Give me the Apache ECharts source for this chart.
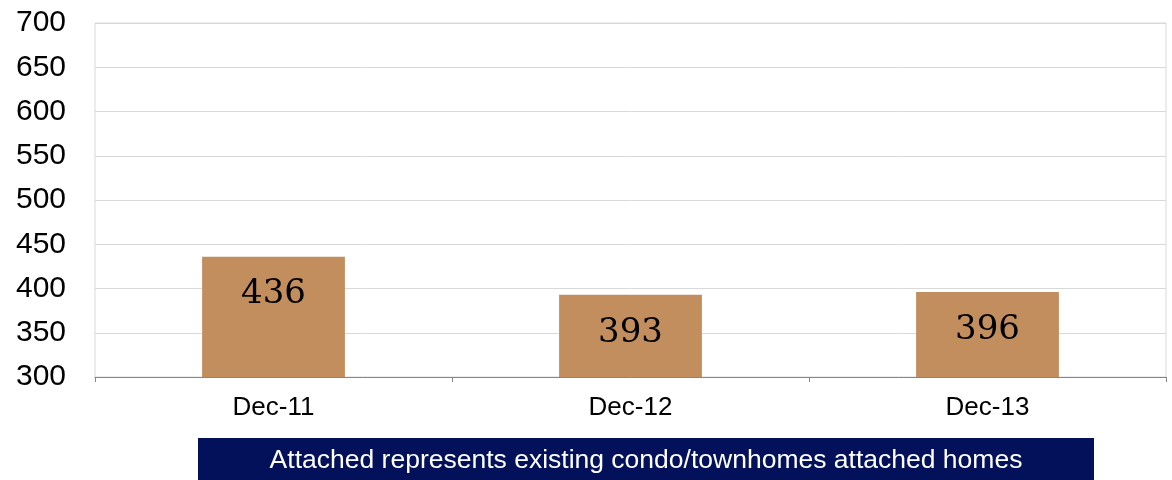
<!DOCTYPE html>
<html>
<head>
<meta charset="utf-8">
<style>
  html, body { margin: 0; padding: 0; background: #ffffff; }
  #chart { width: 1172px; height: 480px; }
</style>
<script src="https://cdn.jsdelivr.net/npm/echarts@6/dist/echarts.min.js"></script>
</head>
<body>
<div id="chart"></div>
<script>
// Existing attached homes inventory, year-end
const categories = ['Dec-11', 'Dec-12', 'Dec-13'];
const attachedValues = [436, 393, 396];
const yTicks = [300, 350, 400, 450, 500, 550, 600, 650, 700];
const footnote = 'Attached represents existing condo/townhomes attached homes';

const chart = echarts.init(document.getElementById('chart'), null, { renderer: 'canvas' });

chart.setOption({
  animation: false,
  backgroundColor: '#ffffff',
  grid: {
    left: 95, right: 6, top: 23, bottom: 103,
    show: true, borderColor: '#d9d9d9', borderWidth: 1
  },
  xAxis: {
    type: 'category',
    data: categories,
    axisLine: { lineStyle: { color: '#868686', width: 1 } },
    axisTick: { show: true, length: 5, lineStyle: { color: '#868686' } },
    axisLabel: {
      color: '#000000', fontFamily: 'Liberation Sans, Arial, sans-serif',
      fontSize: 26, margin: 18
    }
  },
  yAxis: {
    type: 'value',
    min: yTicks[0],
    max: yTicks[yTicks.length - 1],
    interval: yTicks[1] - yTicks[0],
    axisLine: { show: false },
    axisTick: { show: false },
    splitLine: { lineStyle: { color: '#d9d9d9', width: 1 } },
    axisLabel: {
      color: '#000000', fontFamily: 'Liberation Sans, Arial, sans-serif',
      fontSize: 30, margin: 29
    }
  },
  series: [{
    type: 'bar',
    data: attachedValues,
    barWidth: '40%',
    itemStyle: { color: '#c28e5e' },
    label: {
      show: true,
      position: 'insideTop',
      distance: 21,
      color: '#000000',
      fontFamily: 'DejaVu Serif, Georgia, serif',
      fontSize: 34
    }
  }],
  graphic: [{
    type: 'group',
    left: 198,
    top: 438,
    children: [{
      type: 'rect',
      shape: { x: 0, y: 0, width: 896, height: 42 },
      style: { fill: '#02115a' }
    }, {
      type: 'text',
      x: 448,
      y: 23,
      style: {
        text: footnote,
        fill: '#ffffff',
        font: '26.5px "Liberation Sans", Arial, sans-serif',
        textAlign: 'center',
        textVerticalAlign: 'middle'
      }
    }]
  }]
});
</script>
</body>
</html>
